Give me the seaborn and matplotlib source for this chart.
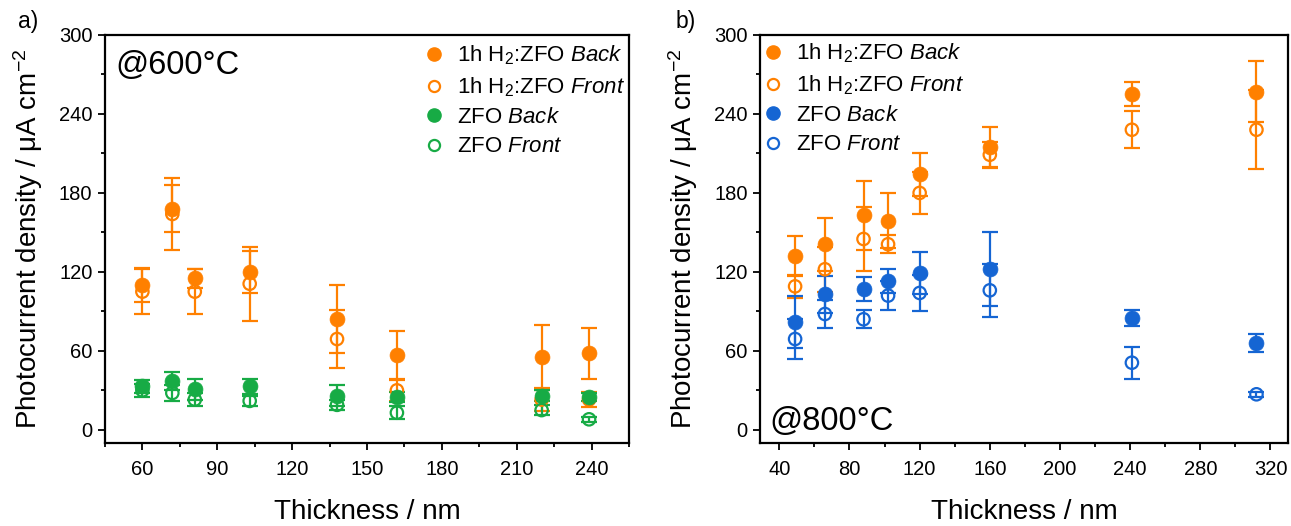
import matplotlib
matplotlib.use("Agg")
import matplotlib.pyplot as plt
from matplotlib.lines import Line2D
from matplotlib.ticker import MultipleLocator
import numpy as np
import pandas as pd
import seaborn as sns

# ---- data: annealed at 600 °C ----
thick_600 = [60, 72, 81, 103, 138, 162, 220, 239]
h2_back_600 = [110, 168, 115, 120, 84, 57, 55, 58]
h2_back_600_err = [13, 18, 7, 16, 26, 18, 25, 19]
h2_front_600 = [105, 164, 105, 111, 69, 30, 23, 23]
h2_front_600_err = [17, 27, 17, 28, 22, 8, 9, 6]
zfo_back_600 = [33, 37, 31, 33, 26, 25, 26, 25]
zfo_back_600_err = [5, 7, 8, 6, 8, 4, 4, 3]
zfo_front_600 = [30, 28, 23, 22, 19, 13, 15, 8]
zfo_front_600_err = [5, 6, 5, 4, 4, 5, 4, 2]

# ---- data: annealed at 800 °C ----
thick_800 = [49, 66, 88, 102, 120, 160, 241, 312]
h2_back_800 = [132, 141, 163, 159, 194, 215, 255, 257]
h2_back_800_err = [15, 20, 26, 21, 16, 15, 9, 23]
h2_front_800 = [109, 122, 145, 141, 180, 209, 228, 228]
h2_front_800_err = [9, 17, 24, 7, 16, 10, 14, 30]
zfo_back_800 = [82, 103, 107, 113, 119, 122, 85, 66]
zfo_back_800_err = [20, 14, 9, 9, 16, 28, 6, 7]
zfo_front_800 = [69, 88, 84, 102, 104, 106, 51, 27]
zfo_front_800_err = [15, 11, 7, 11, 14, 20, 12, 2]

ORANGE = "#FF8000"
GREEN = "#17AB45"
BLUE = "#1565D3"

sns.set_theme(style="ticks")
plt.rcParams["font.family"] = ["Liberation Sans", "DejaVu Sans"]
plt.rcParams["mathtext.fontset"] = "custom"
plt.rcParams["mathtext.rm"] = "Liberation Sans"
plt.rcParams["mathtext.it"] = "Liberation Sans:italic"
plt.rcParams["mathtext.default"] = "rm"
for key in ("text.color", "axes.labelcolor", "xtick.color", "ytick.color",
            "axes.edgecolor"):
    plt.rcParams[key] = "black"

fig = plt.figure(figsize=(12.91, 5.26), dpi=100)
ax1 = fig.add_axes([0.0813, 0.1578, 0.4059, 0.7757])
ax2 = fig.add_axes([0.5887, 0.1578, 0.4090, 0.7757])

LBL_H2_BACK = "1h H$_2$:ZFO $\\mathit{Back}$"
LBL_H2_FRONT = "1h H$_2$:ZFO $\\mathit{Front}$"
LBL_Z_BACK = "ZFO $\\mathit{Back}$"
LBL_Z_FRONT = "ZFO $\\mathit{Front}$"


def draw_series(ax, x, y, err, color, filled):
    ax.errorbar(x, y, yerr=err, fmt="none", ecolor=color, elinewidth=1.6,
                capsize=5.5, capthick=1.6, zorder=2)
    df = pd.DataFrame({"x": x, "y": y})
    if filled:
        sns.scatterplot(data=df, x="x", y="y", ax=ax, color=color, s=115,
                        edgecolor=color, linewidth=0.5, zorder=3, legend=False)
    else:
        sns.scatterplot(data=df, x="x", y="y", ax=ax, facecolor="none",
                        edgecolor=color, linewidth=1.6, s=80, zorder=3,
                        legend=False)


def legend_handles(c2):
    return [
        Line2D([], [], ls="none", marker="o", ms=9.5, mfc=ORANGE, mec=ORANGE,
               label=LBL_H2_BACK),
        Line2D([], [], ls="none", marker="o", ms=8, mfc="none", mec=ORANGE,
               mew=1.6, label=LBL_H2_FRONT),
        Line2D([], [], ls="none", marker="o", ms=9.5, mfc=c2, mec=c2,
               label=LBL_Z_BACK),
        Line2D([], [], ls="none", marker="o", ms=8, mfc="none", mec=c2,
               mew=1.6, label=LBL_Z_FRONT),
    ]


# panel a
draw_series(ax1, thick_600, h2_back_600, h2_back_600_err, ORANGE, True)
draw_series(ax1, thick_600, h2_front_600, h2_front_600_err, ORANGE, False)
draw_series(ax1, thick_600, zfo_back_600, zfo_back_600_err, GREEN, True)
draw_series(ax1, thick_600, zfo_front_600, zfo_front_600_err, GREEN, False)
ax1.set_xlim(45, 255)
ax1.xaxis.set_major_locator(MultipleLocator(30))
ax1.xaxis.set_minor_locator(MultipleLocator(15))

# panel b
draw_series(ax2, thick_800, h2_back_800, h2_back_800_err, ORANGE, True)
draw_series(ax2, thick_800, h2_front_800, h2_front_800_err, ORANGE, False)
draw_series(ax2, thick_800, zfo_back_800, zfo_back_800_err, BLUE, True)
draw_series(ax2, thick_800, zfo_front_800, zfo_front_800_err, BLUE, False)
ax2.set_xlim(29, 330)
ax2.xaxis.set_major_locator(MultipleLocator(40))
ax2.xaxis.set_minor_locator(MultipleLocator(20))

for ax in (ax1, ax2):
    ax.set_ylim(-10, 300)
    ax.yaxis.set_major_locator(MultipleLocator(60))
    ax.yaxis.set_minor_locator(MultipleLocator(30))
    for sp in ax.spines.values():
        sp.set_visible(True)
        sp.set_linewidth(1.6)
        sp.set_color("black")
    ax.tick_params(axis="both", which="major", direction="out", length=5,
                   width=1.3, labelsize=14.5, color="black",
                   labelcolor="black", pad=7, top=False, right=False)
    ax.tick_params(axis="both", which="minor", direction="out", length=3,
                   width=1.3, color="black", top=False, right=False)
    ax.tick_params(axis="y", which="major", pad=4)
    ax.set_xlabel("Thickness / nm", fontsize=20, labelpad=15, color="black")
    ax.set_ylabel("Photocurrent density / μA cm$^{-2}$", fontsize=20,
                  labelpad=10, color="black")
    ax.grid(False)

leg_kw = dict(frameon=False, fontsize=16, handlelength=1.0,
              handletextpad=0.55, labelspacing=0.37)
leg1 = ax1.legend(handles=legend_handles(GREEN), loc="upper right",
                  bbox_to_anchor=(1.031, 1.028), **leg_kw)
leg2 = ax2.legend(handles=legend_handles(BLUE), loc="upper left",
                  bbox_to_anchor=(-0.035, 1.033), **leg_kw)

ax1.text(0.02, 0.963, "@600°C", transform=ax1.transAxes, fontsize=23.5,
         va="top", ha="left")
ax2.text(0.017, 0.032, "@800°C", transform=ax2.transAxes, fontsize=23.5,
         va="baseline", ha="left")

fig.text(0.014, 0.960, "a)", fontsize=16.5, va="center", ha="left")
fig.text(0.523, 0.960, "b)", fontsize=16.5, va="center", ha="left")

fig.savefig("out.png", dpi=100)
